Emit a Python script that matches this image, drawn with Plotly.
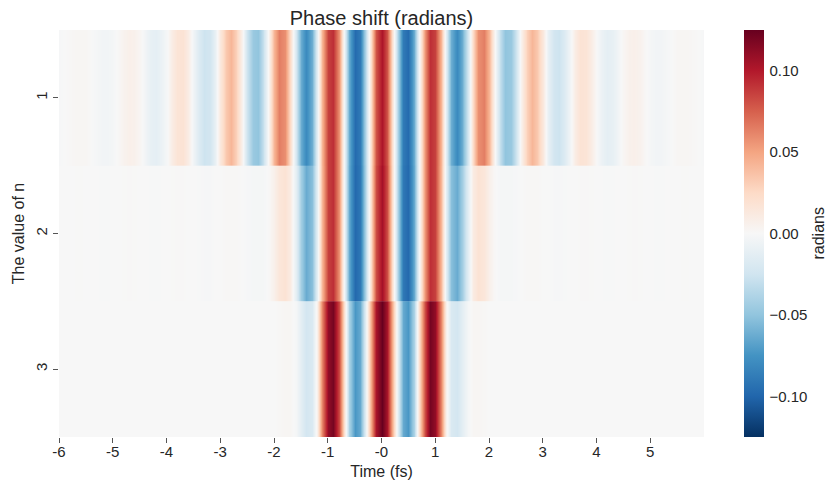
import numpy as np
import plotly.graph_objects as go

# time samples (fs)
times = np.round(np.linspace(-6.0, 6.0, 121), 2)

n_labels = ["1", "2", "3"]
n_values = [1, 2, 3]

# phase shift (radians) at 0.1 fs steps
row_n1 = [-0.001, 0.000, 0.001, 0.002, 0.002, 0.002, 0.000, -0.002, -0.004, -0.004,
          -0.002, 0.001, 0.005, 0.007, 0.006, 0.002, -0.004, -0.010, -0.012, -0.008,
          -0.001, 0.010, 0.017, 0.018, 0.010, -0.004, -0.018, -0.026, -0.024, -0.010,
          0.013, 0.034, 0.042, 0.030, 0.005, -0.026, -0.047, -0.050, -0.030, 0.006,
          0.043, 0.064, 0.058, 0.025, -0.022, -0.063, -0.080, -0.062, -0.014, 0.043,
          0.086, 0.092, 0.057, -0.003, -0.063, -0.097, -0.089, -0.042, 0.023, 0.080,
          0.102,
          0.080, 0.023, -0.042, -0.089, -0.097, -0.063, -0.003, 0.057, 0.092, 0.086,
          0.043, -0.014, -0.062, -0.080, -0.063, -0.022, 0.025, 0.058, 0.064, 0.043,
          0.006, -0.030, -0.050, -0.047, -0.026, 0.005, 0.030, 0.042, 0.034, 0.013,
          -0.010, -0.024, -0.026, -0.018, -0.004, 0.010, 0.018, 0.017, 0.010, -0.001,
          -0.008, -0.012, -0.010, -0.004, 0.002, 0.006, 0.007, 0.005, 0.001, -0.002,
          -0.004, -0.004, -0.002, 0.000, 0.002, 0.002, 0.002, 0.001, 0.000, -0.001]

row_n2 = [-0.0001, 0.0000, 0.0001, 0.0003, 0.0003, 0.0002, 0.0000, -0.0003, -0.0004, -0.0004,
          -0.0002, 0.0001, 0.0004, 0.0005, 0.0004, 0.0001, -0.0002, -0.0004, -0.0005, -0.0003,
          0.0000, 0.0004, 0.0005, 0.0005, 0.0000, 0.0000, -0.0005, -0.001, -0.001, 0.000,
          0.000, 0.001, 0.001, 0.001, 0.000, -0.001, -0.002, -0.002, -0.002, 0.001,
          0.007, 0.015, 0.018, 0.011, -0.013, -0.044, -0.063, -0.053, -0.013, 0.042,
          0.086, 0.092, 0.057, -0.003, -0.064, -0.098, -0.090, -0.043, 0.024, 0.082,
          0.105,
          0.082, 0.024, -0.043, -0.090, -0.098, -0.064, -0.003, 0.057, 0.092, 0.086,
          0.042, -0.013, -0.053, -0.063, -0.044, -0.013, 0.011, 0.018, 0.015, 0.007,
          0.001, -0.002, -0.002, -0.002, -0.001, 0.000, 0.001, 0.001, 0.001, 0.000,
          0.000, -0.001, -0.001, -0.0005, 0.0000, 0.0000, 0.0005, 0.0005, 0.0004, 0.0000,
          -0.0003, -0.0005, -0.0004, -0.0002, 0.0001, 0.0004, 0.0005, 0.0004, 0.0001, -0.0002,
          -0.0004, -0.0004, -0.0003, 0.0000, 0.0002, 0.0003, 0.0003, 0.0001, 0.0000, -0.0001]

row_n3 = [0.0, 0.0, 0.0, 0.0, 0.0, 0.0, 0.0, 0.0, 0.0, 0.0,
          0.0, 0.0, 0.0, 0.0, 0.0, 0.0, 0.0, 0.0, 0.0, 0.0,
          0.0, 0.0, 0.0, 0.0, 0.0, 0.0, 0.0, 0.0, 0.0, 0.0,
          0.0, 0.0, 0.0, 0.0, 0.0, 0.0, 0.0, 0.0, 0.0, 0.0,
          0.0, 0.001, 0.002, 0.002, -0.002, -0.013, -0.023, -0.019, 0.006, 0.062,
          0.111, 0.120, 0.083, 0.021, -0.040, -0.073, -0.064, -0.017, 0.048, 0.104,
          0.125,
          0.104, 0.048, -0.017, -0.064, -0.073, -0.040, 0.021, 0.083, 0.120, 0.111,
          0.062, 0.006, -0.019, -0.023, -0.013, -0.002, 0.002, 0.002, 0.001, 0.0,
          0.0, 0.0, 0.0, 0.0, 0.0, 0.0, 0.0, 0.0, 0.0, 0.0,
          0.0, 0.0, 0.0, 0.0, 0.0, 0.0, 0.0, 0.0, 0.0, 0.0,
          0.0, 0.0, 0.0, 0.0, 0.0, 0.0, 0.0, 0.0, 0.0, 0.0,
          0.0, 0.0, 0.0, 0.0, 0.0, 0.0, 0.0, 0.0, 0.0, 0.0]

rows = [row_n1, row_n2, row_n3]

x_tick_vals = [-6, -5, -4, -3, -2, -1, 0, 1, 2, 3, 4, 5]
x_tick_text = ["-6", "-5", "-4", "-3", "-2", "-1", "-0", "1", "2", "3", "4", "5"]
cbar_ticks = [-0.10, -0.05, 0.00, 0.05, 0.10]

rdbu_r = [[0.0, "#053061"], [0.1, "#2166ac"], [0.2, "#4393c3"], [0.3, "#92c5de"],
          [0.4, "#d1e5f0"], [0.5, "#f7f7f7"], [0.6, "#fddbc7"], [0.7, "#f4a582"],
          [0.8, "#d6604d"], [0.9, "#b2182b"], [1.0, "#67001f"]]

FONT = "Liberation Sans, Arial, sans-serif"
TXT = "#262626"

fig = go.Figure()
for n, row in zip(n_values, rows):
    assert len(row) == len(times)
    fig.add_trace(go.Heatmap(
        z=[row], x=times, y=[n], coloraxis="coloraxis", zsmooth="best",
        hovertemplate="t=%{x}<br>n=%{y}<br>%{z}<extra></extra>"))

fig.update_layout(
    width=825, height=485,
    margin=dict(l=59, r=121, t=30, b=48, autoexpand=False),
    paper_bgcolor="white", plot_bgcolor="white",
    font=dict(family=FONT, size=15, color=TXT),
    title=dict(text="Phase shift (radians)", x=0.5, xref="paper", xanchor="center",
               y=1 - 18 / 485, yanchor="middle", font=dict(size=20, color=TXT)),
    xaxis=dict(range=[-6, 6], tickmode="array", tickvals=x_tick_vals, ticktext=x_tick_text,
               ticks="outside", ticklen=5, tickcolor="#555555", showgrid=False,
               zeroline=False, showline=False, automargin=False,
               tickfont=dict(size=15), ticklabelstandoff=-4,
               title=dict(text="Time (fs)", font=dict(size=16), standoff=6)),
    yaxis=dict(range=[3.5, 0.5], tickmode="array", tickvals=n_values, ticktext=n_labels,
               tickangle=-90, ticks="outside", ticklen=5, tickcolor="#555555",
               showgrid=False, zeroline=False, showline=False, automargin=False,
               tickfont=dict(size=15),
               title=dict(text="The value of n", font=dict(size=16), standoff=4)),
    coloraxis=dict(cmin=-0.125, cmax=0.125, colorscale=rdbu_r,
                   colorbar=dict(x=744 / 825, xanchor="left", xref="container",
                                 y=0.5, yanchor="middle", len=1, lenmode="fraction",
                                 ypad=0, xpad=0,
                                 thickness=20, outlinewidth=0,
                                 ticks="outside", ticklen=3, tickcolor="rgba(0,0,0,0)",
                                 tickvals=cbar_ticks, tickformat=".2f",
                                 tickfont=dict(size=15, color=TXT))),
    annotations=[dict(text="radians", textangle=-90, xref="paper", yref="paper",
                      x=(818 - 59) / 645, y=0.5, xanchor="center", yanchor="middle",
                      showarrow=False, font=dict(size=16, color=TXT))],
)

fig.write_html("out.html")
